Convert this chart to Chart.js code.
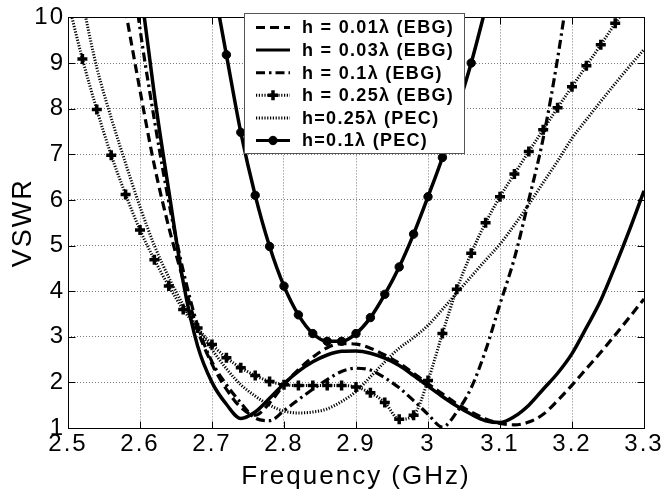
<!DOCTYPE html>
<html><head><meta charset="utf-8">
<script src="https://cdn.jsdelivr.net/npm/chart.js@4"></script>
<style>html,body{margin:0;padding:0;background:#fff;}#wrap{width:664px;height:491px;}</style>
</head><body><div id="wrap"><canvas id="c" width="664" height="491"></canvas></div>
<script>
const freq = [2.50,2.52,2.54,2.56,2.58,2.60,2.62,2.64,2.66,2.68,2.70,2.72,2.74,2.76,2.78,2.80,2.82,2.84,2.86,2.88,2.90,2.92,2.94,2.96,2.98,3.00,3.02,3.04,3.06,3.08,3.10,3.12,3.14,3.16,3.18,3.20,3.22,3.24,3.26,3.28,3.30];
const xTicks = [2.5,2.6,2.7,2.8,2.9,3.0,3.1,3.2,3.3];
const xTickLabels = ['2.5','2.6','2.7','2.8','2.9','3','3.1','3.2','3.3'];
const yTicks = [1,2,3,4,5,6,7,8,9,10];
const yTickLabels = ['1','2','3','4','5','6','7','8','9','10'];
const seriesNames = ['h = 0.01\u03bb (EBG)','h = 0.03\u03bb (EBG)','h = 0.1\u03bb (EBG)','h = 0.25\u03bb (EBG)','h=0.25\u03bb (PEC)','h=0.1\u03bb (PEC)'];

const ebg001 = [null,null,null,12.0,10.15,8.4,6.75,5.4,4.25,3.15,2.4,1.85,1.45,1.28,1.55,1.95,2.28,2.55,2.76,2.85,2.84,2.75,2.6,2.42,2.2,1.97,1.75,1.53,1.35,1.2,1.1,1.07,1.13,1.3,1.6,1.94,2.3,2.66,3.04,3.43,3.83];
const ebg003 = [null,null,null,null,13.2,10.75,8.3,6.2,4.2,2.8,2.0,1.52,1.21,1.35,1.65,1.97,2.24,2.45,2.6,2.68,2.69,2.64,2.53,2.37,2.15,1.92,1.69,1.48,1.3,1.16,1.12,1.25,1.5,1.85,2.2,2.63,3.2,3.8,4.55,5.35,6.2];
const ebg01 = [null,null,null,null,12.2,9.75,7.75,5.95,4.45,3.25,2.45,1.95,1.55,1.22,1.16,1.38,1.62,1.85,2.06,2.24,2.31,2.27,2.1,1.88,1.6,1.3,1.02,1.35,1.88,2.7,3.72,4.72,6.0,7.35,9.1,11.2,null,null,null,null,null];
const ebg025 = [10.35,9.09,7.98,6.98,6.12,5.34,4.69,4.11,3.60,3.19,2.83,2.54,2.32,2.15,2.02,1.95,1.93,1.93,1.93,1.93,1.90,1.77,1.56,1.19,1.28,2.04,3.07,4.04,4.83,5.50,6.07,6.57,7.06,7.54,8.02,8.48,8.94,9.40,9.87,10.33,null];
const pec025 = [11.9,10.35,8.9,7.8,6.8,5.85,5.0,4.3,3.7,3.18,2.72,2.3,1.95,1.70,1.50,1.37,1.33,1.35,1.42,1.58,1.80,2.12,2.45,2.75,2.98,3.25,3.6,3.96,4.32,4.68,5.03,5.45,5.9,6.38,6.85,7.35,7.76,8.16,8.55,8.93,9.3];
const pec01 = [null,null,null,null,null,null,null,null,null,12.6,10.9,9.18,7.48,6.10,4.98,4.11,3.48,3.07,2.90,2.90,3.07,3.42,3.93,4.53,5.25,6.07,6.93,7.95,9.0,10.2,11.4,null,null,null,null,null,null,null,null,null,null];

const toPts = arr => freq.map((f,i)=>({x:f,y:arr[i]})).filter(p=>p.y!==null);

const base = {borderColor:'#000',backgroundColor:'#000',pointRadius:0,fill:false,cubicInterpolationMode:'monotone',clip:0};
const datasets = [
  Object.assign({}, base, {label:seriesNames[0], data:toPts(ebg001), borderWidth:3.2, borderDash:[9,5]}),
  Object.assign({}, base, {label:seriesNames[1], data:toPts(ebg003), borderWidth:3.5}),
  Object.assign({}, base, {label:seriesNames[2], data:toPts(ebg01), borderWidth:3.2, borderDash:[9,4,2.5,4]}),
  Object.assign({}, base, {label:seriesNames[3], data:toPts(ebg025), borderWidth:3, borderDash:[1.2,1.6], pointStyle:'cross', pointRadius:5, pointBorderWidth:3.5, pointBorderColor:'#000', pointBackgroundColor:'#000'}),
  Object.assign({}, base, {label:seriesNames[4], data:toPts(pec025), borderWidth:3, borderDash:[1.2,1.6]}),
  Object.assign({}, base, {label:seriesNames[5], data:toPts(pec01), borderWidth:3.5, pointStyle:'circle', pointRadius:4.2, pointBorderWidth:1, pointBorderColor:'#000', pointBackgroundColor:'#000'})
];

const look = {
  id:'look',
  beforeDraw(chart){ chart.ctx.letterSpacing = '2px'; },
  afterDraw(chart){
    const {ctx, chartArea:a, scales:{x,y}} = chart;
    ctx.save();
    ctx.letterSpacing = '0px';
    ctx.setLineDash([]);
    ctx.strokeStyle = '#000'; ctx.lineWidth = 1;
    const L = Math.round(a.left)+0.5, R = Math.round(a.right)+0.5, T = Math.round(a.top)+0.5, B = Math.round(a.bottom)+0.5;
    ctx.strokeRect(L, T, R-L, B-T);
    ctx.beginPath();
    xTicks.forEach(v=>{ const p=Math.round(x.getPixelForValue(v))+0.5; ctx.moveTo(p,B); ctx.lineTo(p,B-7); ctx.moveTo(p,T); ctx.lineTo(p,T+7); });
    yTicks.forEach(v=>{ const p=Math.round(y.getPixelForValue(v))+0.5; ctx.moveTo(L,p); ctx.lineTo(L+7,p); ctx.moveTo(R,p); ctx.lineTo(R-7,p); });
    ctx.stroke();
    // legend box
    const bx=244.5, by=13.5, bw=220, bh=140;
    ctx.fillStyle='#fff'; ctx.fillRect(bx,by,bw,bh);
    ctx.strokeStyle='#555'; ctx.lineWidth=1; ctx.strokeRect(bx,by,bw,bh);
    chart.data.datasets.forEach((ds,i)=>{
      const ry = 27.5 + i*22.6;
      ctx.save();
      ctx.strokeStyle='#000';
      ctx.lineWidth = Math.min(ds.borderWidth, 3);
      ctx.setLineDash(ds.borderDash||[]);
      ctx.beginPath(); ctx.moveTo(256,ry); ctx.lineTo(290,ry); ctx.stroke();
      ctx.setLineDash([]);
      if (ds.pointRadius>0){
        ctx.fillStyle='#000'; ctx.strokeStyle='#000'; ctx.lineWidth=ds.pointBorderWidth;
        Chart.helpers.drawPoint(ctx,{pointStyle:ds.pointStyle,radius:ds.pointRadius,borderWidth:ds.pointBorderWidth,rotation:0},273,ry);
      }
      ctx.restore();
      ctx.fillStyle='#000';
      ctx.font='bold 18px "Liberation Sans", Arial, sans-serif';
      ctx.letterSpacing='1.3px';
      ctx.textBaseline='middle'; ctx.textAlign='left';
      ctx.fillText(ds.label, 302, ry+1);
    });
    ctx.restore();
  }
};

new Chart(document.getElementById('c'), {
  type:'line',
  data:{datasets},
  plugins:[look],
  options:{
    responsive:false, animation:false,
    layout:{padding:{top:14,right:20,left:0,bottom:0}},
    plugins:{legend:{display:false},tooltip:{enabled:false}},
    elements:{line:{tension:0.4}},
    scales:{
      x:{type:'linear',min:2.5,max:3.3,
        afterBuildTicks(s){ s.ticks = xTicks.map(v=>({value:v})); },
        afterFit(s){ s.height = 63; },
        ticks:{color:'#000',font:{family:'"Liberation Sans", Arial, sans-serif',size:24},padding:2,maxRotation:0,autoSkip:false,callback:(v,i)=>xTickLabels[i]},
        grid:{color:'#7a7a7a',lineWidth:1,drawTicks:false},
        border:{display:false,dash:[1,2]},
        title:{display:true,text:'Frequency (GHz)',color:'#000',font:{family:'"Liberation Sans", Arial, sans-serif',size:26,lineHeight:1.1},padding:{top:0,bottom:0}}
      },
      y:{type:'linear',min:1,max:10,
        afterBuildTicks(s){ s.ticks = yTicks.map(v=>({value:v})); },
        afterFit(s){ s.width = 68; },
        ticks:{color:'#000',font:{family:'"Liberation Sans", Arial, sans-serif',size:24},padding:3,autoSkip:false,callback:(v,i)=>yTickLabels[i]},
        grid:{color:'#7a7a7a',lineWidth:1,drawTicks:false},
        border:{display:false,dash:[1,2]},
        title:{display:true,text:'VSWR',color:'#000',font:{family:'"Liberation Sans", Arial, sans-serif',size:27,lineHeight:1.1},padding:{top:9,bottom:0}}
      }
    }
  }
});
</script></body></html>
